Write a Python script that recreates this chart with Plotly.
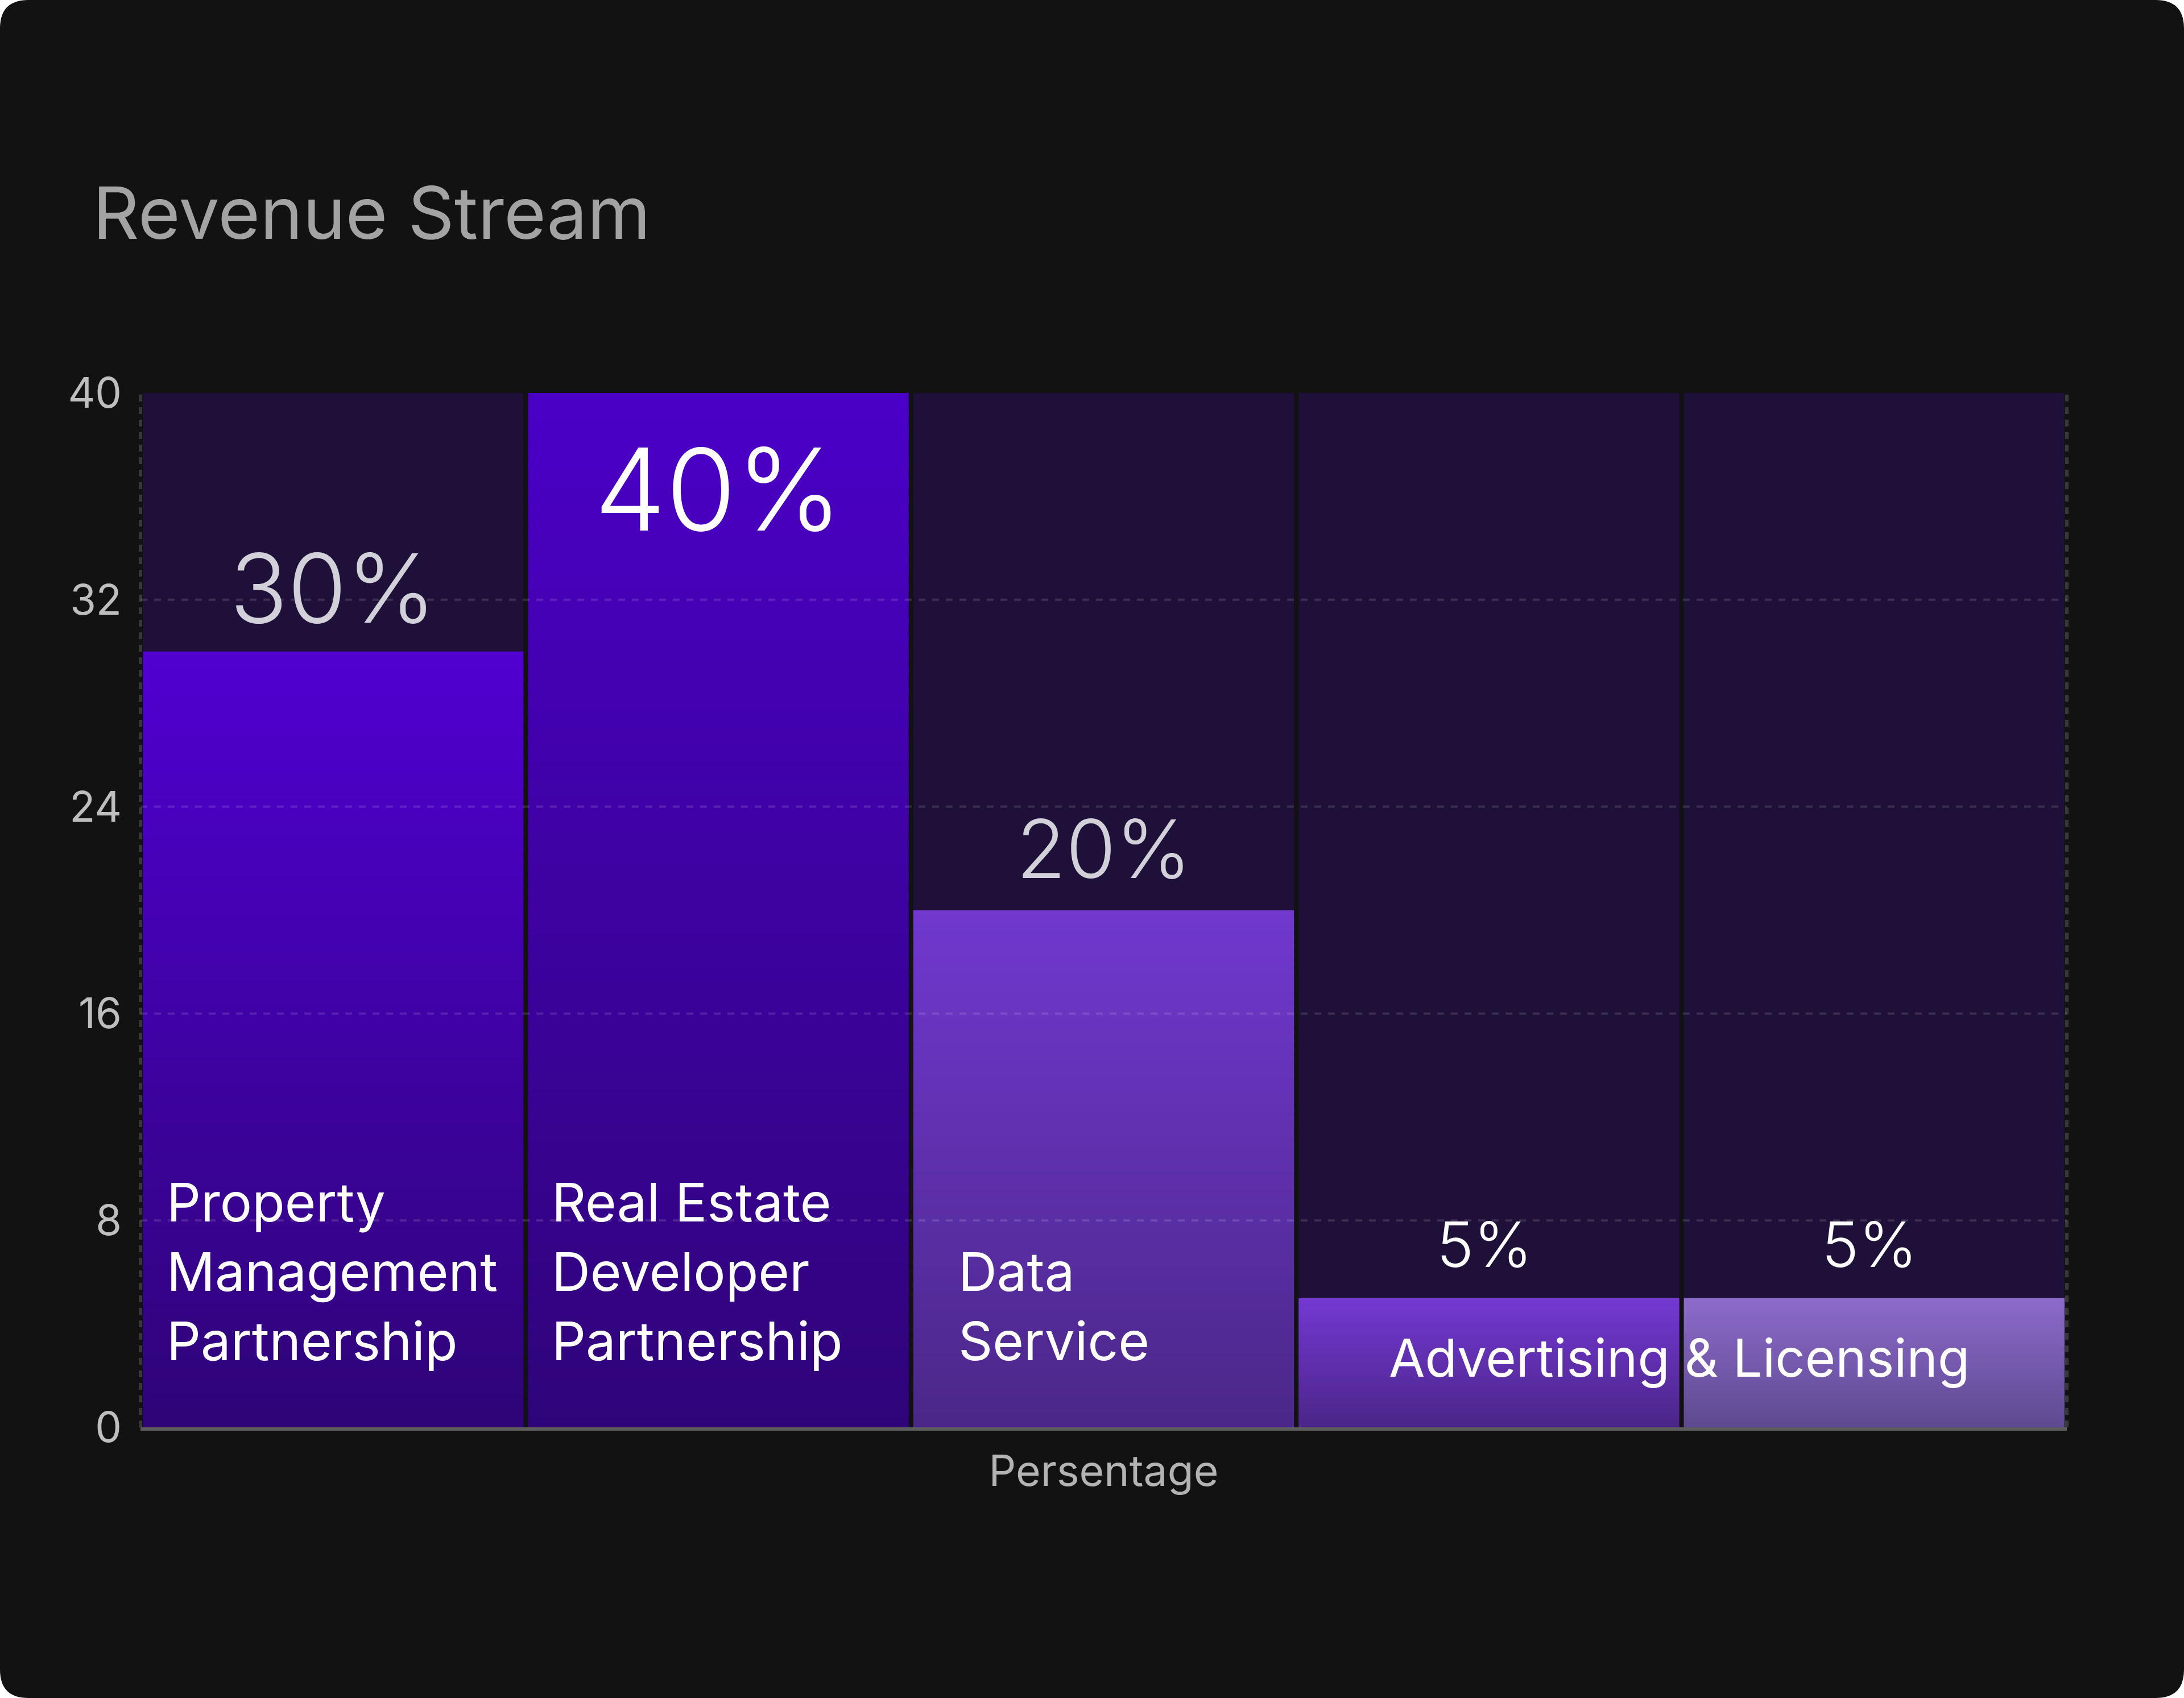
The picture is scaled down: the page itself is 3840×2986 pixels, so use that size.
import plotly.graph_objects as go

# ---------------- data ----------------
categories = ["Property Management Partnership", "Real Estate Developer Partnership",
              "Data Service", "Advertising", "Licensing"]
values = [30, 40, 20, 5, 5]
value_labels = ["30%", "40%", "20%", "5%", "5%"]
y_ticks = [0, 8, 16, 24, 32, 40]
y_max = 40
name_labels = ["Property<br>Management<br>Partnership",
               "Real Estate<br>Developer<br>Partnership",
               "Data<br>Service"]
shared_label = "Advertising & Licensing"
title_text = "Revenue Stream"
x_title = "Persentage"

# ---------------- style ----------------
W, H = 3840, 2986
ML, MR, MT, MB = 247, 206, 691, 476
PW, PH = W - ML - MR, H - MT - MB
CARD = "#121212"
TRACK = "#1E1038"
top_colors = ["#5000D0", "#4B00C6", "#7038CE", "#7339D2", "#8C6ACA"]
bot_colors = ["#2E0477", "#2F0479", "#4B2788", "#4B2588", "#5E4A90"]
pct_sizes = [168, 200, 142, 110, 110]
pct_colors = ["#D2D0D8", "#FFFFFF", "#D2D0D8", "#FFFFFF", "#FFFFFF"]
pct_shift = [112, -169, 109, 95, 95]
pct_xshift = [0, 0, 0, -8, -8]
name_xshift = [-295, -295, -258]
FONT = "Inter, 'Open Sans', sans-serif"
N_SEG = 60
OVERLAP = 0.4  # fraction of a slice that each slice extends downward (hides seams)


def px(x):
    return (x - ML) / PW


def py(y):
    return (H - MB - y) / PH


def hex2rgb(h):
    h = h.lstrip("#")
    return [int(h[i:i + 2], 16) for i in (0, 2, 4)]


def mix(c1, c2, t):
    a, b = hex2rgb(c1), hex2rgb(c2)
    return "rgb({},{},{})".format(*[round(a[i] + (b[i] - a[i]) * t) for i in range(3)])


fig = go.Figure()

# background tracks
fig.add_trace(go.Bar(x=categories, y=[y_max] * len(categories), marker=dict(color=TRACK, line=dict(width=0)),
                     hoverinfo="skip", showlegend=False))

# gradient bars built as thin slices of each value (slice tops at exact fractions of the value)
for k in range(N_SEG):
    t = (k + 0.5) / N_SEG  # 0 bottom -> 1 top
    ov = OVERLAP if k > 0 else 0.0
    fig.add_trace(go.Bar(
        x=categories,
        y=[v * (1 + ov) / N_SEG for v in values],
        base=[v * (k - ov) / N_SEG for v in values],
        marker=dict(color=[mix(bot_colors[i], top_colors[i], t) for i in range(len(values))],
                    line=dict(width=0)),
        hoverinfo="skip", showlegend=False))

shapes = []
# rounded card
r = 50
card_path = (
    f"M {px(r)},{py(0)} L {px(W - r)},{py(0)} Q {px(W)},{py(0)} {px(W)},{py(r)} "
    f"L {px(W)},{py(H - r)} Q {px(W)},{py(H)} {px(W - r)},{py(H)} "
    f"L {px(r)},{py(H)} Q {px(0)},{py(H)} {px(0)},{py(H - r)} "
    f"L {px(0)},{py(r)} Q {px(0)},{py(0)} {px(r)},{py(0)} Z"
)
shapes.append(dict(type="path", xref="paper", yref="paper", path=card_path,
                   fillcolor=CARD, line=dict(width=0), layer="below"))
# dashed grid lines
for t in y_ticks[1:-1]:
    shapes.append(dict(type="line", xref="paper", yref="y", x0=0, x1=1, y0=t, y1=t,
                       line=dict(color="rgba(255,255,255,0.13)", width=4, dash="12px,12px"),
                       layer="above"))
# top border
shapes.append(dict(type="line", xref="paper", yref="y", ysizemode="pixel", yanchor=y_max,
                   x0=0, x1=1, y0=4, y1=4,
                   line=dict(color="rgba(255,255,255,0.16)", width=6, dash="12px,12px"),
                   layer="above"))
# left / right borders
for xp in (0, 1):
    shapes.append(dict(type="line", xref="paper", yref="paper", x0=xp, x1=xp, y0=0, y1=1.003,
                       line=dict(color="rgba(255,255,255,0.16)", width=6, dash="12px,10px"),
                       layer="above"))

annotations = []
for i, c in enumerate(categories):
    annotations.append(dict(
        x=c, y=values[i], xref="x", yref="y", text=value_labels[i], showarrow=False,
        yanchor="middle", xanchor="center", yshift=pct_shift[i], xshift=pct_xshift[i],
        font=dict(family=FONT, size=pct_sizes[i], color=pct_colors[i], weight=300)))
for i, txt in enumerate(name_labels):
    annotations.append(dict(
        x=i, y=0, xref="x", yref="y", text=txt, showarrow=False, align="left",
        xanchor="left", yanchor="bottom", xshift=name_xshift[i], yshift=93,
        font=dict(family=FONT, size=94, color="#FFFFFF")))
annotations.append(dict(
    x=3.5, y=0, xref="x", yref="y", text=shared_label, showarrow=False,
    xanchor="center", yanchor="bottom", xshift=-4, yshift=65,
    font=dict(family=FONT, size=92, color="#FFFFFF")))

fig.update_layout(
    width=W, height=H,
    margin=dict(l=ML, r=MR, t=MT, b=MB, pad=0),
    paper_bgcolor="#FFFFFF", plot_bgcolor="rgba(0,0,0,0)",
    barmode="overlay", bargap=0.012,
    showlegend=False,
    title=dict(text=title_text, xref="container", yref="container",
               x=163 / W, xanchor="left", y=1 - 420 / H, yanchor="bottom",
               font=dict(family=FONT, size=127, color="#A3A3A3")),
    shapes=shapes, annotations=annotations,
    xaxis=dict(type="category", showticklabels=False, showgrid=False, zeroline=False,
               showline=True, linecolor="#5C5C5C", linewidth=6, ticks="",
               range=[-0.5, len(categories) - 0.5],
               title=dict(text=x_title, standoff=47,
                          font=dict(family=FONT, size=75, color="#B3B3B3"))),
    yaxis=dict(range=[0, y_max], tickvals=y_ticks, showgrid=False, zeroline=False,
               showline=False, ticks="", ticklabelstandoff=32,
               tickfont=dict(family=FONT, size=74, color="#BEBEBE")),
)

fig.write_html("out.html")
